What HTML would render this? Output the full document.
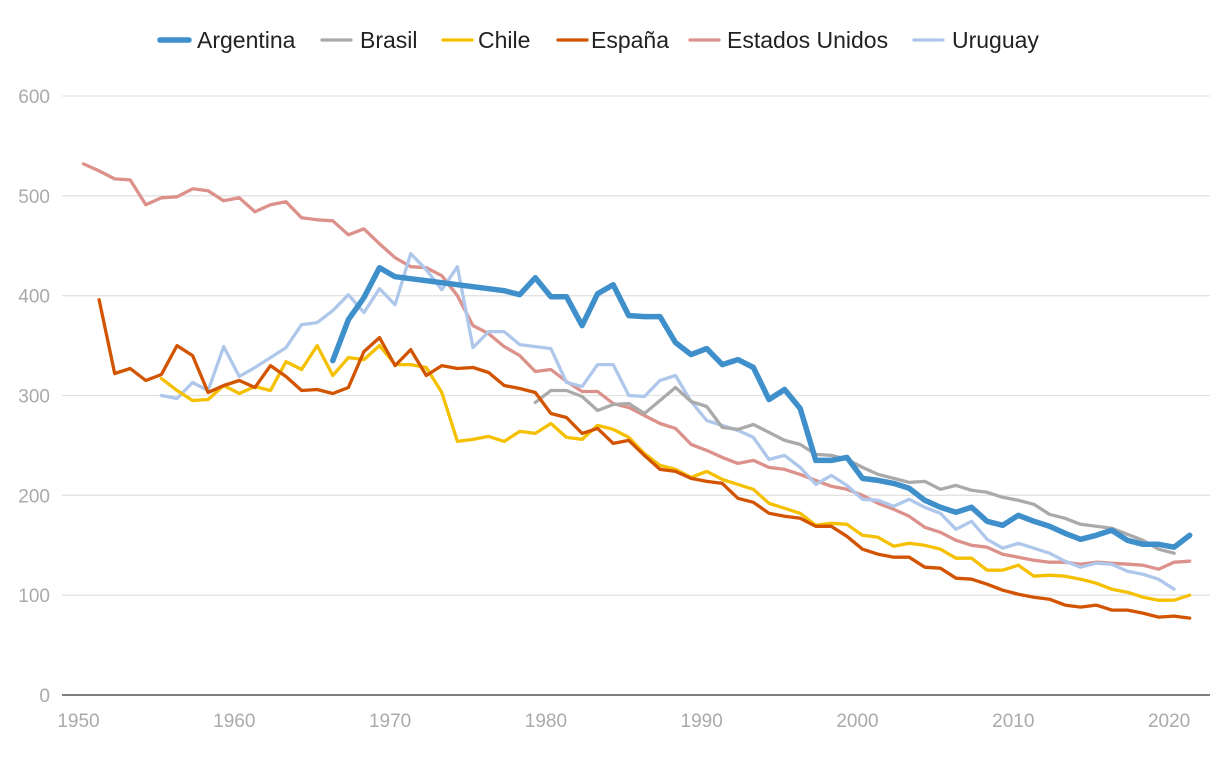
<!DOCTYPE html>
<html><head><meta charset="utf-8"><style>
body{margin:0;background:#fff;}
svg{display:block;font-family:"Liberation Sans",sans-serif;}
</style></head><body>
<svg id="chart" width="1220" height="760" viewBox="0 0 1220 760" xmlns="http://www.w3.org/2000/svg">
<g id="grid"></g>
<g id="yaxis"></g>
<g id="xaxis"></g>
<g id="series"></g>
<g id="legend"></g>
</svg>
<script>
const yTicks=[0,100,200,300,400,500,600];
const xTicks=[1950,1960,1970,1980,1990,2000,2010,2020];
const seriesNames=["Argentina","Brasil","Chile","España","Estados Unidos","Uruguay"];
const argStart=1966;
const argVals=[335,376,398,428,419,417,415,413,411,409,407,405,401,418,399,399,370,402,411,380,379,379,353,341,347,331,336,328,296,306,287,235,235,238,217,215,212,207,195,188,183,188,174,170,180,174,169,162,156,160,165,155,151,151,148,160];
const braStart=1979;
const braVals=[293,305,305,299,285,291,292,282,295,308,294,289,268,266,271,263,255,251,241,240,236,228,221,217,213,214,206,210,205,203,198,195,191,181,177,171,169,167,161,155,146,142];
const chiStart=1955;
const chiVals=[317,305,295,296,310,302,309,305,334,326,350,320,338,336,350,331,331,328,303,254,256,259,254,264,262,272,258,256,270,266,258,242,230,226,218,224,216,211,206,192,187,182,170,172,171,160,158,149,152,150,146,137,137,125,125,130,119,120,119,116,112,106,103,98,95,95,100];
const espStart=1951;
const espVals=[396,322,327,315,321,350,340,303,310,315,308,330,319,305,306,302,308,344,358,330,346,320,330,327,328,323,310,307,303,282,278,262,267,252,255,240,226,224,217,214,212,197,193,182,179,177,169,169,159,146,141,138,138,128,127,117,116,111,105,101,98,96,90,88,90,85,85,82,78,79,77];
const usaStart=1950;
const usaVals=[532,525,517,516,491,498,499,507,505,495,498,484,491,494,478,476,475,461,467,452,438,429,428,420,400,370,362,349,340,324,326,314,304,304,292,288,280,272,267,251,245,238,232,235,228,226,221,215,209,206,200,192,186,179,168,163,155,150,148,141,138,135,133,133,131,133,132,131,130,126,133,134];
const uruStart=1955;
const uruVals=[300,297,313,305,349,319,328,338,348,371,373,385,401,383,407,391,442,426,406,429,348,364,364,351,349,347,313,309,331,331,300,299,315,320,294,275,270,265,258,236,240,228,211,220,210,196,195,189,196,188,182,166,174,156,147,152,147,142,134,128,132,131,124,121,116,106];

const NS="http://www.w3.org/2000/svg";
const X=yr=>83.5+(yr-1950)*15.58;
const Y=v=>695-v*(599/600);
function mk(tag,attrs,parent){const e=document.createElementNS(NS,tag);for(const k in attrs)e.setAttribute(k,attrs[k]);parent.appendChild(e);return e;}
const grid=document.getElementById('grid'),ya=document.getElementById('yaxis'),xa=document.getElementById('xaxis'),sg=document.getElementById('series'),lg=document.getElementById('legend');
yTicks.forEach(t=>{
  if(t>0){const l=mk('line',{x1:62,x2:1210,y1:Y(t),y2:Y(t),stroke:'#e3e3e3','stroke-width':1.3},grid);
  
  }
  const tx=mk('text',{x:50,y:Y(t)+7,'text-anchor':'end','font-size':19,fill:'#aaaaaa'},ya);tx.textContent=t;
  
  
});
const base=mk('line',{x1:62,x2:1210,y1:695,y2:695,stroke:'#333','stroke-width':1.3},xa);


xTicks.forEach(t=>{
  const tx=mk('text',{x:X(t)-5,y:727,'text-anchor':'middle','font-size':19,fill:'#aaaaaa'},xa);tx.textContent=t;
  
  
});
const defs=[
 {start:usaStart,vals:usaVals,color:'#dc918b',w:3.3,key:'estados-unidos'},
 {start:uruStart,vals:uruVals,color:'#aec7ea',w:3.3,key:'uruguay'},
 {start:braStart,vals:braVals,color:'#aaaaaa',w:3.3,key:'brasil'},
 {start:chiStart,vals:chiVals,color:'#f5c000',w:3.3,key:'chile'},
 {start:espStart,vals:espVals,color:'#d35400',w:3.3,key:'espana'},
 {start:argStart,vals:argVals,color:'#3f8fcb',w:5.5,key:'argentina'}
];
defs.forEach(d=>{
  const pts=d.vals.map((v,i)=>X(d.start+i).toFixed(1)+','+Y(v).toFixed(1)).join(' ');
  const p=mk('polyline',{points:pts,fill:'none',stroke:d.color,'stroke-width':d.w,'stroke-linejoin':'round','stroke-linecap':'round'},sg);
  
  
});
const leg=[
 {n:seriesNames[0],c:'#3f8fcb',w:5.5,lx:160,tx:197},
 {n:seriesNames[1],c:'#aaaaaa',w:3.3,lx:322,tx:360},
 {n:seriesNames[2],c:'#f5c000',w:3.3,lx:443,tx:478},
 {n:seriesNames[3],c:'#d35400',w:3.3,lx:558,tx:591},
 {n:seriesNames[4],c:'#dc918b',w:3.3,lx:690,tx:727},
 {n:seriesNames[5],c:'#aec7ea',w:3.3,lx:914,tx:952}
];
leg.forEach(l=>{
  const g=mk('g',{},lg);
  
  
  mk('line',{x1:l.lx,x2:l.lx+29,y1:40,y2:40,stroke:l.c,'stroke-width':l.w,'stroke-linecap':'round'},g);
  const t=mk('text',{x:l.tx,y:48,'font-size':23,fill:'#222'},g);t.textContent=l.n;
});
</script>
</body></html>
